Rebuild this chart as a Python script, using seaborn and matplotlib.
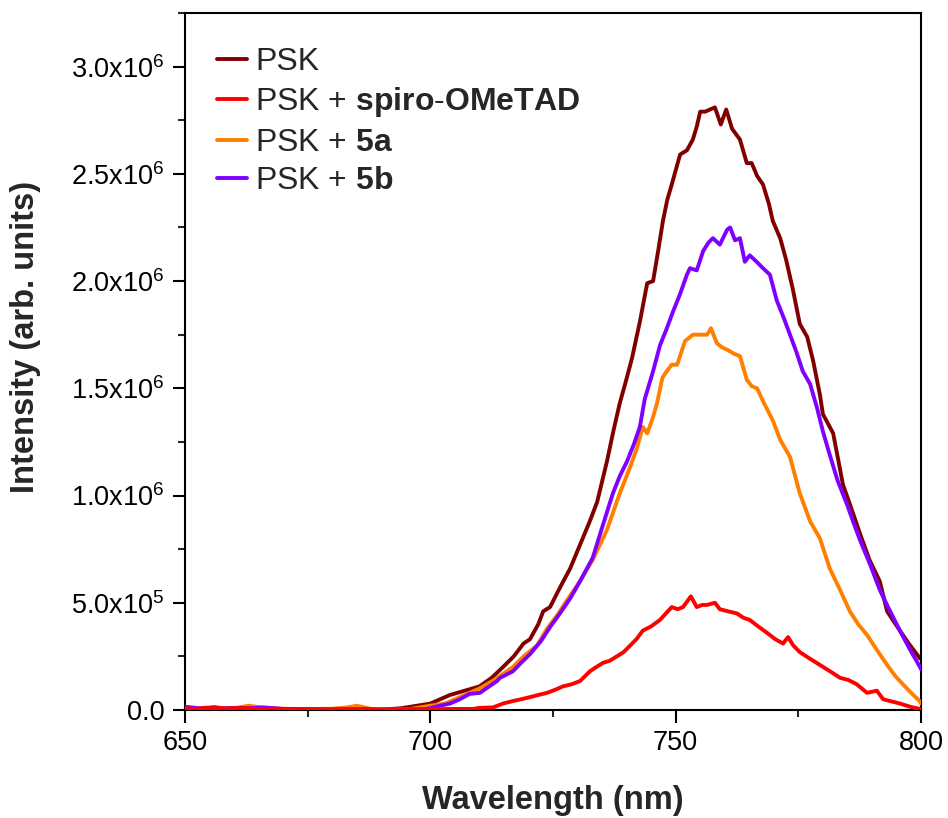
import numpy as np
import pandas as pd
import matplotlib
matplotlib.use("Agg")
import matplotlib.pyplot as plt
import seaborn as sns
from matplotlib.ticker import MultipleLocator, FuncFormatter
from matplotlib.lines import Line2D

# ---- data (intensity in units of 1e6) ----
psk_x = [650, 653, 656, 660, 665, 670, 675, 680, 685, 690, 694, 697.3, 700, 704, 707, 710, 712.5, 714.8,
         717, 719, 720.3, 722, 723, 724.4, 726.4, 728.5, 730.5, 732.5, 734, 736, 737.3, 738.6, 739.7, 741.1,
         742.7, 744.2, 745.4, 746.5, 747.4, 748.3, 749.2, 750.9, 752.3, 753.5, 754.3, 755, 756, 757, 758,
         759.2, 760.3, 761.5, 763.1, 764.5, 765.5, 766.6, 767.8, 769, 769.8, 771.3, 772.5, 773.9, 775.3,
         776.8, 778, 779.4, 780, 782.1, 784.1, 785.5, 787.6, 789.5, 791.6, 793.1, 795.7, 797.5, 799.8, 800]
psk_y = [0.01, 0.005, 0.012, 0.005, 0.008, 0.003, 0.005, 0.004, 0.006, 0.002, 0.008, 0.02, 0.03, 0.07, 0.09,
         0.11, 0.15, 0.20, 0.25, 0.31, 0.33, 0.40, 0.46, 0.48, 0.57, 0.66, 0.77, 0.88, 0.97, 1.16, 1.30, 1.43,
         1.52, 1.64, 1.81, 1.99, 2.00, 2.15, 2.28, 2.38, 2.45, 2.59, 2.61, 2.66, 2.72, 2.79, 2.79, 2.80, 2.81,
         2.73, 2.80, 2.71, 2.66, 2.55, 2.55, 2.49, 2.45, 2.36, 2.28, 2.20, 2.10, 1.96, 1.80, 1.74, 1.63, 1.47,
         1.38, 1.29, 1.05, 0.96, 0.82, 0.70, 0.60, 0.46, 0.37, 0.31, 0.24, 0.24]

spiro_x = [650, 652, 654, 656, 658, 661, 665, 670, 675, 680, 685, 690, 695, 700, 704, 708.7, 710.1, 712.8,
           714.8, 716.5, 718.5, 720.3, 722, 723.8, 725.5, 727, 728.8, 730.5, 732.5, 733.8, 735.2, 736.6, 738,
           739.4, 740.7, 742, 743.3, 745, 746.8, 748, 749.2, 750.4, 751.5, 753.1, 754.3, 755.4, 756.4, 758,
           759, 760.7, 762.5, 763.8, 765.1, 766.8, 768.6, 770.3, 771.9, 772.9, 774, 775.3, 777.3, 779.4,
           781.5, 783.5, 785.2, 786.9, 789, 791, 792.3, 794, 795.7, 797.8, 799.8, 800]
spiro_y = [0.008, 0.005, 0.01, 0.012, 0.006, 0.01, 0.005, 0.003, 0.004, 0.002, 0.004, 0.001, 0.002, 0.003,
           0.005, 0.005, 0.01, 0.012, 0.03, 0.04, 0.05, 0.06, 0.07, 0.08, 0.095, 0.11, 0.12, 0.135, 0.18, 0.20,
           0.22, 0.23, 0.25, 0.27, 0.30, 0.33, 0.37, 0.39, 0.42, 0.45, 0.48, 0.47, 0.48, 0.53, 0.48, 0.49, 0.49,
           0.50, 0.47, 0.46, 0.45, 0.43, 0.42, 0.39, 0.36, 0.33, 0.31, 0.34, 0.30, 0.27, 0.24, 0.21, 0.18, 0.15,
           0.14, 0.12, 0.08, 0.09, 0.05, 0.04, 0.03, 0.015, 0.005, 0.003]

a5_x = [650, 653, 656, 660, 663, 666, 670, 675, 680, 683, 685, 688, 692, 696, 700, 703, 706, 708, 710, 713,
        716.8, 719, 721.7, 723.8, 725.8, 727.8, 730.5, 733.1, 736, 738.6, 740.5, 742.1, 743.3, 744.2, 745.3,
        746.2, 747.3, 748.2, 749.2, 750.3, 751.9, 753.5, 755, 756.4, 757.2, 758.4, 759.5, 760.5, 762, 763.1,
        764.5, 765.5, 766.6, 767.8, 769.8, 771.3, 773.3, 775.3, 777.4, 779.4, 781.4, 783.5, 785.5, 787.2,
        789, 791, 793.1, 794.7, 796.3, 798, 799.8, 800]
a5_y = [0.012, 0.005, 0.01, 0.008, 0.02, 0.01, 0.006, 0.004, 0.006, 0.012, 0.02, 0.005, 0.002, 0.005, 0.02,
        0.03, 0.06, 0.08, 0.10, 0.14, 0.20, 0.25, 0.30, 0.38, 0.44, 0.51, 0.60, 0.70, 0.84, 1.01, 1.12, 1.22,
        1.32, 1.29, 1.36, 1.43, 1.55, 1.58, 1.61, 1.61, 1.72, 1.75, 1.75, 1.75, 1.78, 1.71, 1.69, 1.68, 1.66,
        1.65, 1.54, 1.51, 1.50, 1.44, 1.35, 1.26, 1.18, 1.01, 0.88, 0.80, 0.66, 0.56, 0.46, 0.40, 0.35, 0.28,
        0.21, 0.16, 0.12, 0.08, 0.04, 0.03]

b5_x = [650, 653, 656, 660, 663, 666, 670, 675, 680, 685, 690, 695, 699.3, 702, 704, 706, 708, 710.1, 712,
        713.6, 714.2, 716.8, 718.5, 720.3, 722.5, 724.5, 726.4, 728.5, 730.5, 733.1, 735, 737.2, 738.6, 740.1,
        741.5, 742.7, 743.7, 745.4, 746.8, 748.2, 749.5, 750.9, 752.3, 752.9, 754.3, 755.6, 756.7, 757.6, 759,
        760.5, 761.1, 762.1, 763.1, 764.1, 765.1, 766.5, 767.8, 769.2, 770.6, 772, 773.3, 774.6, 775.9, 777.4,
        778.8, 780, 781.4, 783, 784.9, 786.3, 787.6, 789.6, 791.6, 793.5, 795.7, 797.8, 799.8, 800]
b5_y = [0.015, 0.008, 0.005, 0.01, 0.008, 0.012, 0.005, 0.004, 0.003, 0.005, 0.002, 0.003, 0.005, 0.02, 0.03,
        0.05, 0.075, 0.08, 0.11, 0.135, 0.15, 0.18, 0.22, 0.26, 0.32, 0.39, 0.45, 0.52, 0.60, 0.71, 0.85, 1.01,
        1.09, 1.16, 1.24, 1.32, 1.45, 1.58, 1.70, 1.78, 1.86, 1.94, 2.03, 2.06, 2.05, 2.14, 2.18, 2.20, 2.17,
        2.24, 2.25, 2.19, 2.20, 2.09, 2.12, 2.09, 2.06, 2.03, 1.91, 1.83, 1.75, 1.67, 1.58, 1.52, 1.41, 1.30,
        1.19, 1.07, 0.96, 0.87, 0.79, 0.68, 0.56, 0.47, 0.37, 0.28, 0.20, 0.19]

series_names = ["PSK", "PSK + spiro-OMeTAD", "PSK + 5a", "PSK + 5b"]
legend_labels = ["PSK", r"PSK + $\mathbf{spiro}$-$\mathbf{OMeTAD}$", r"PSK + $\mathbf{5a}$", r"PSK + $\mathbf{5b}$"]
colors = ["#800000", "#ff0000", "#ff8000", "#8000ff"]
x_ticks = [650, 700, 750, 800]

xs = [psk_x, spiro_x, a5_x, b5_x]
ys = [psk_y, spiro_y, a5_y, b5_y]
frames = []
for name, x, y in zip(series_names, xs, ys):
    frames.append(pd.DataFrame({"wl": x, "I": np.array(y) * 1e6, "sample": name}))
df = pd.concat(frames, ignore_index=True)

sns.set_style("ticks")
plt.rcParams["font.family"] = ["Liberation Sans", "DejaVu Sans"]
plt.rcParams["mathtext.fontset"] = "custom"
plt.rcParams["mathtext.rm"] = "Liberation Sans"
plt.rcParams["mathtext.it"] = "Liberation Sans:italic"
plt.rcParams["mathtext.bf"] = "Liberation Sans:bold"

fig = plt.figure(figsize=(9.48, 8.18), dpi=100)
ax = fig.add_axes([185 / 948, 1 - 710 / 818, (921 - 185) / 948, (710 - 13) / 818])

sns.lineplot(data=df, x="wl", y="I", hue="sample", hue_order=series_names,
             palette=dict(zip(series_names, colors)), estimator=None, sort=False,
             linewidth=2.8, ax=ax, legend=False)
# draw order: red on top
zorders = [2, 5, 3, 4]
for line, z in zip(ax.get_lines(), zorders):
    line.set_zorder(z)
    line.set_solid_joinstyle("round")

ax.set_xlim(650, 800)
ax.set_ylim(0, 3.25e6)
ax.set_xticks(x_ticks)
ax.xaxis.set_minor_locator(MultipleLocator(25))
ax.yaxis.set_major_locator(MultipleLocator(0.5e6))
ax.yaxis.set_minor_locator(MultipleLocator(0.25e6))


def fmt(v, pos):
    if v < 1:
        return "0.0"
    e = int(np.floor(np.log10(v) + 1e-9))
    m = v / 10 ** e
    return f"{m:.1f}x10$^{{{e}}}$"


ax.yaxis.set_major_formatter(FuncFormatter(fmt))
ax.tick_params(axis="both", which="major", direction="out", length=9, width=1.5,
               labelsize=19.5, colors="black", top=False, right=False)
ax.tick_params(axis="x", which="major", pad=5.5)
ax.tick_params(axis="y", which="major", pad=6)
ax.tick_params(axis="both", which="minor", direction="out", length=5, width=1.5,
               top=False, right=False)
for s in ax.spines.values():
    s.set_visible(True)
    s.set_linewidth(1.5)
    s.set_color("black")

ax.set_xlabel("Wavelength (nm)", fontsize=23.5, fontweight="bold")
ax.set_ylabel("Intensity (arb. units)", fontsize=23.5, fontweight="bold")
ax.xaxis.set_label_coords(0.5, -0.107)
ax.yaxis.set_label_coords(-0.196, 0.535)

handles = [Line2D([], [], color=c, linewidth=2.8) for c in colors]
ax.legend(handles, legend_labels, loc="upper left", bbox_to_anchor=(0.0435, 0.951),
          frameon=False, fontsize=23, handlelength=0.94, handletextpad=0.25,
          labelspacing=0.26, borderaxespad=0.0, borderpad=0.0)

fig.savefig("out.png", dpi=100)
